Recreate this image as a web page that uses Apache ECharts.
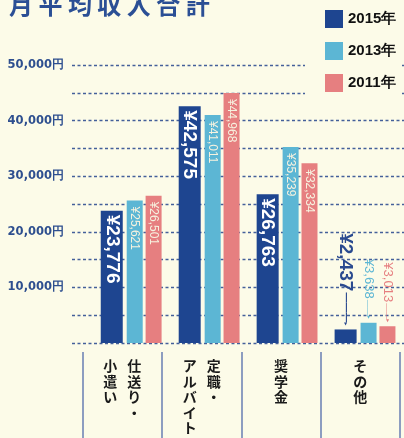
<!DOCTYPE html>
<html>
<head>
<meta charset="utf-8">
<script src="https://cdn.jsdelivr.net/npm/echarts@6/dist/echarts.min.js"></script>
<style>
html,body{margin:0;padding:0;background:#fcfbe8;}
#chart{width:404px;height:438px;}
</style>
</head>
<body>
<div id="chart"></div>
<script>
// ---- data ----
const titleText = '月平均収入合計';
const categoryColumns = [['仕送り・', '小遣い'], ['定職・', 'アルバイト'], ['奨学金'], ['その他']];
const years = ['2015年', '2013年', '2011年'];
const values2015 = [23776, 42575, 26763, 2437];
const values2013 = [25621, 41011, 35239, 3638];
const values2011 = [26501, 44968, 32334, 3013];
const yTickValues = [10000, 20000, 30000, 40000, 50000];
const yTickLabels = ['10,000円', '20,000円', '30,000円', '40,000円', '50,000円'];

// ---- styles ----
const bg = '#fcfbe8';
const colors = ['#1e4590', '#5cb6d4', '#e67f80'];
const outsideTextColors = ['#2a4a8f', '#5cb6d4', '#e67f80'];
const categoryNames = categoryColumns.map(c => c.join(''));

function yen(v) { return '¥' + v.toLocaleString('en-US'); }

function verticalLabel(cols) {
  const n = Math.max(...cols.map(c => c.length));
  const rows = [];
  for (let r = 0; r < n; r++) {
    if (cols.length === 1) {
      rows.push('{c|' + (cols[0][r] || '　') + '}');
    } else {
      rows.push('{c|' + (cols[1][r] || '　') + '}{c|' + (cols[0][r] || '　') + '}');
    }
  }
  return rows.join('\n');
}

function makeSeries(idx, vals, big) {
  const fontSize = big ? 19 : 12;
  return {
    name: years[idx],
    type: 'bar',
    xAxisIndex: 1,
    yAxisIndex: 1,
    barWidth: big ? 22 : 16,
    barGap: '18%',
    itemStyle: { color: colors[idx] },
    label: {
      show: true,
      position: 'insideTop',
      rotate: -90,
      align: 'left',
      verticalAlign: 'middle',
      distance: big ? 4 : 6,
      color: big ? '#ffffff' : '#f6f2df',
      fontFamily: 'Liberation Sans',
      fontWeight: big ? 'bold' : 'normal',
      fontSize: fontSize,
      formatter: p => yen(p.value)
    },
    data: vals.map(v => {
      if (v >= 10000) return v;
      return {
        value: v,
        label: {
          position: 'top',
          rotate: -90,
          align: 'right',
          verticalAlign: 'middle',
          distance: 4,
          color: outsideTextColors[idx],
          formatter: '{v|' + yen(v) + '}{s| }{l|' + (big ? '———' : '——') + '}{a|▸}',
          rich: {
            v: { fontFamily: 'Liberation Sans', fontWeight: big ? 'bold' : 'normal', fontSize: big ? 19 : 13, color: outsideTextColors[idx], verticalAlign: 'middle' },
            s: { fontSize: 4, verticalAlign: 'middle' },
            l: { fontFamily: 'Liberation Sans', fontSize: big ? 10 : 8, color: outsideTextColors[idx], verticalAlign: 'middle' },
            a: { fontFamily: 'DejaVu Sans', fontSize: 6, color: outsideTextColors[idx], verticalAlign: 'middle' }
          }
        }
      };
    })
  };
}

const chart = echarts.init(document.getElementById('chart'), null, { renderer: 'canvas' });
const option = {
  backgroundColor: bg,
  animation: false,
  title: {
    text: titleText.split('').join(' '),
    left: 4,
    top: -12,
    textStyle: { fontFamily: 'Noto Sans CJK JP', fontWeight: 'bold', fontSize: 24, color: '#2b4f95' }
  },
  legend: {
    data: years,
    orient: 'vertical',
    left: 305,
    top: 0,
    padding: [10, 4, 8, 20],
    itemWidth: 18,
    itemHeight: 18,
    itemGap: 14,
    icon: 'rect',
    backgroundColor: bg,
    textStyle: { fontFamily: 'Liberation Sans', fontWeight: 'bold', fontSize: 15, color: '#111111' }
  },
  grid: [
    { left: 72, right: 0, top: 65, bottom: 95 },
    { left: 92.2, width: 318, top: 65, bottom: 95 },
    { left: 82.7, right: 4, top: 352, bottom: 0 }
  ],
  xAxis: [
    { gridIndex: 0, type: 'value', show: false },
    { gridIndex: 1, type: 'category', data: categoryNames, show: false },
    {
      gridIndex: 2, type: 'category', data: categoryNames, position: 'top',
      axisLine: { show: false }, axisTick: { show: false },
      splitLine: { show: true, interval: 0, lineStyle: { color: '#8d9dc0', width: 2 } },
      axisLabel: {
        inside: true, interval: 0, margin: 6,
        formatter: (val, i) => verticalLabel(categoryColumns[i]),
        rich: { c: { width: 24, align: 'center', fontFamily: 'Noto Sans CJK JP', fontWeight: 'bold', fontSize: 14, lineHeight: 15.5, color: '#1a1a1a' } }
      }
    }
  ],
  yAxis: [
    {
      gridIndex: 0, type: 'value', min: 0, max: 50000, interval: 5000,
      axisLine: { show: false }, axisTick: { show: false },
      splitLine: { show: true, lineStyle: { type: [3, 2.5], color: '#44609a', width: 1.3 } },
      axisLabel: {
        margin: 8,
        fontFamily: 'DejaVu Sans', fontWeight: 'bold', fontSize: 11.5, color: '#2e4f8f',
        formatter: v => { const k = yTickValues.indexOf(v); return k >= 0 ? yTickLabels[k] : ''; }
      }
    },
    { gridIndex: 1, type: 'value', min: 0, max: 50000, show: false },
    { gridIndex: 2, type: 'value', show: false }
  ],
  series: [
    makeSeries(0, values2015, true),
    makeSeries(1, values2013, false),
    makeSeries(2, values2011, false)
  ]
};
chart.setOption(option);
</script>
</body>
</html>
